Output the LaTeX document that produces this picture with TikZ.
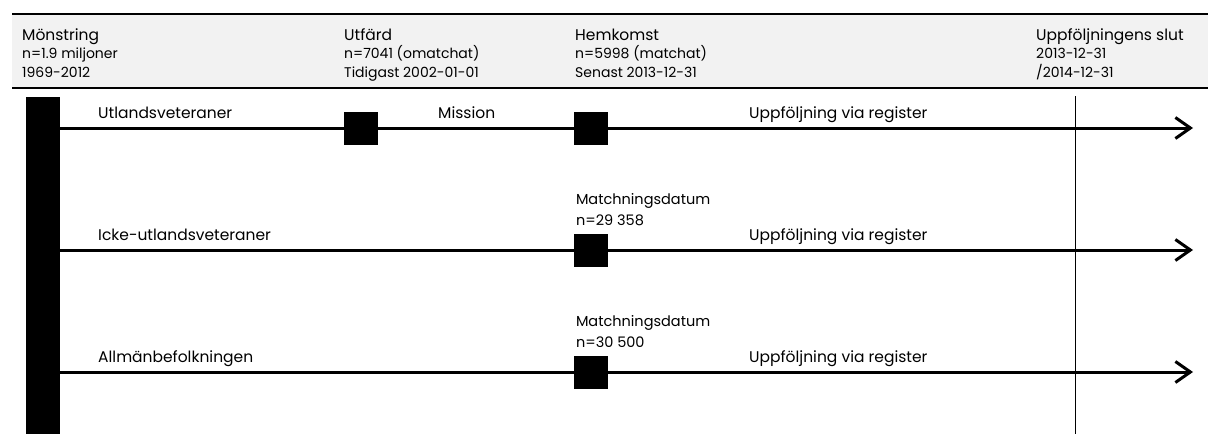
\documentclass[tikz,border=0pt]{standalone}
\usepackage{fontspec}
\setmainfont{Poppins}
\usetikzlibrary{arrows.meta}
\definecolor{ink}{HTML}{000000}
\definecolor{band}{HTML}{F2F2F2}

\begin{document}
\begin{tikzpicture}[x=1pt,y=-1pt,
    head/.style={anchor=base west,inner sep=0pt,font=\fontsize{15.5}{18}\selectfont\color{ink}},
    headsub/.style={anchor=base west,inner sep=0pt,font=\fontsize{14}{16}\selectfont\color{ink}},
    rowlbl/.style={anchor=base west,inner sep=0pt,font=\fontsize{15.5}{18}\selectfont\color{ink}},
    marker/.style={fill=ink,minimum width=34pt,minimum height=33pt,inner sep=0pt},
    track/.style={draw=ink,line width=3pt,-{Straight Barb[length=15pt,width=21pt,line width=3pt]}}]
  \useasboundingbox (0,0) rectangle (1208,434);
  % header band
  \fill[band] (12,14) rectangle (1208,88);
  \draw[ink,line width=2pt] (12,14) -- (1208,14);
  \draw[ink,line width=2pt] (12,88) -- (1208,88);
  \foreach \x/\name/\t/\a/\b in {22/mon/Mönstring/n=1.9 miljoner/1969-2012,
      344/utf/Utfärd/n=7041 (omatchat)/Tidigast 2002-01-01,
      575/hem/Hemkomst/n=5998 (matchat)/Senast 2013-12-31,
      1036/slut/Uppföljningens slut/2013-12-31/{/2014-12-31}}{
    \node[head] (\name) at (\x,40) {\t};
    \node[headsub] (\name-a) at (\x,58) {\a};
    \node[headsub] (\name-b) at (\x,77) {\b};}
  % cohorts
  \node[fill=ink,anchor=north west,minimum width=34pt,minimum height=337pt,inner sep=0pt] (bar) at (26,97) {};
  \draw[ink,line width=1pt] (1075,96) -- (1075,434);
  \foreach \y/\name/\lbl in {128/vet/Utlandsveteraner,250/icke/Icke-utlandsveteraner,372/allm/Allmänbefolkningen}{
    \coordinate (\name-end) at (1193,\y);
    \draw[track] (bar.east |- \name-end) -- (\name-end);
    \node[rowlbl] (\name-lbl) at (98,\y-10) {\lbl};
    \node[rowlbl] (\name-reg) at (749,\y-10) {Uppföljning via register};
    \node[marker] (\name-hem) at (591,\y) {};}
  \node[marker] (vet-utf) at (361,128) {};
  \node[rowlbl] (mission) at (438,118) {Mission};
  \foreach \name/\n in {icke/29 358,allm/30 500}{
    \node[rowlbl,font=\fontsize{14.5}{17}\selectfont] (\name-match) at ([xshift=2pt,yshift=46pt]\name-hem.west) {Matchningsdatum};
    \node[rowlbl,font=\fontsize{14.5}{17}\selectfont] (\name-n) at ([xshift=2pt,yshift=25pt]\name-hem.west) {n=\n};}
\end{tikzpicture}
\end{document}
